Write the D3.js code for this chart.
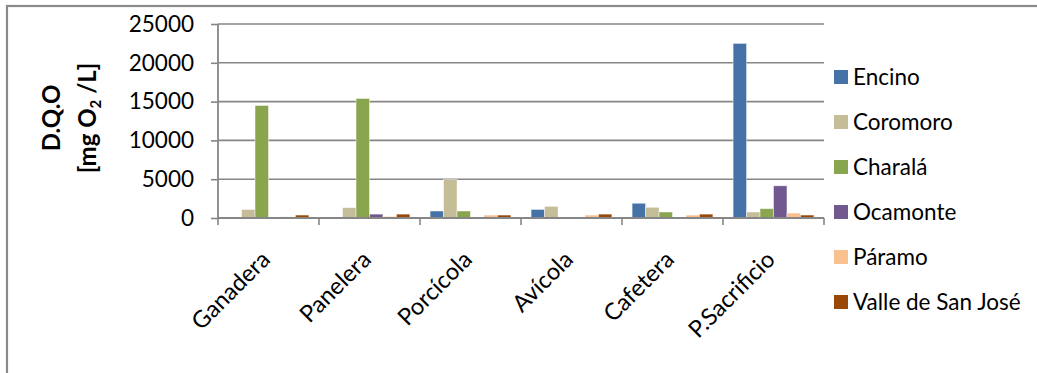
<!DOCTYPE html>
<html>
<head>
<meta charset="utf-8">
<script src="https://cdn.jsdelivr.net/npm/d3@7"></script>
<style>
  html, body { margin: 0; padding: 0; background: #ffffff; }
  svg { display: block; font-family: Lato, "Open Sans", sans-serif; }
</style>
</head>
<body>
<svg id="chart" width="1037" height="373"></svg>
<script>
// Sampling sites (x categories) and measured COD per series
const categories = ["Ganadera", "Panelera", "Porcícola", "Avícola", "Cafetera", "P.Sacrificio"];
const seriesNames = ["Encino", "Coromoro", "Charalá", "Ocamonte", "Páramo", "Valle de San José"];
const encino   = [0, 0, 900, 1100, 1900, 22500];
const coromoro = [1100, 1330, 4950, 1500, 1380, 770];
const charala  = [14500, 15400, 900, 0, 770, 1200];
const ocamonte = [0, 500, 0, 0, 0, 4150];
const paramo   = [150, 200, 380, 380, 380, 640];
const valle    = [380, 500, 380, 500, 500, 380];
const yTicks   = [0, 5000, 10000, 15000, 20000, 25000];
const seriesColors = ["#4573a7", "#c4bd97", "#89a54e", "#71588f", "#fac090", "#984807"];

const seriesValues = [encino, coromoro, charala, ocamonte, paramo, valle];

const svg = d3.select("#chart");
const axisColor = "#868686";

// Outer chart frame
svg.append("rect")
  .attr("x", 7).attr("y", 6)
  .attr("width", 1200).attr("height", 600)
  .attr("fill", "none")
  .attr("stroke", "#8a8a8a")
  .attr("stroke-width", 2.2);

const plot = { left: 218, right: 824, top: 24, bottom: 218 };

const x0 = d3.scaleBand().domain(categories).range([plot.left, plot.right]);
const x1 = d3.scaleBand().domain(seriesNames).range([0, x0.bandwidth()])
  .paddingInner(0).paddingOuter(0.75);
const y = d3.scaleLinear().domain([0, 25000]).range([plot.bottom, plot.top]);

// Horizontal gridlines
svg.append("g").selectAll("line")
  .data(yTicks.filter(t => t > 0))
  .join("line")
  .attr("x1", plot.left).attr("x2", plot.right)
  .attr("y1", d => y(d)).attr("y2", d => y(d))
  .attr("stroke", axisColor).attr("stroke-width", 1.6);

// Bars
const groups = svg.append("g").selectAll("g")
  .data(categories)
  .join("g")
  .attr("transform", d => `translate(${x0(d)},0)`);

groups.selectAll("rect")
  .data((c, i) => seriesNames.map((s, k) => ({ s, k, v: seriesValues[k][i] })))
  .join("rect")
  .filter(d => d.v > 0)
  .attr("x", d => x1(d.s))
  .attr("y", d => y(d.v))
  .attr("width", x1.bandwidth())
  .attr("height", d => y(0) - y(d.v))
  .attr("fill", d => seriesColors[d.k])
  .attr("stroke", "#ffffff")
  .attr("stroke-opacity", 0.55)
  .attr("stroke-width", 0.8);

// Y axis
const yAxis = d3.axisLeft(y).tickValues(yTicks).tickSize(7).tickPadding(17)
  .tickFormat(d3.format("d"));
const gy = svg.append("g")
  .attr("transform", `translate(${plot.left},0)`)
  .call(yAxis);
gy.select(".domain").attr("stroke", axisColor).attr("stroke-width", 1.8)
  .attr("d", `M0,${plot.bottom}V${plot.top}`);
gy.selectAll(".tick line").attr("stroke", axisColor).attr("stroke-width", 1.6);
gy.selectAll(".tick text")
  .attr("fill", "#000").attr("font-size", 22.5)
  .attr("font-family", "Lato, 'Open Sans', sans-serif");

// X axis: baseline with ticks at category boundaries
const gx = svg.append("g");
gx.append("line")
  .attr("x1", plot.left).attr("x2", plot.right)
  .attr("y1", y(0)).attr("y2", y(0))
  .attr("stroke", axisColor).attr("stroke-width", 1.8);
const boundaries = categories.map(c => x0(c)).concat([x0(categories[categories.length - 1]) + x0.bandwidth()]);
gx.selectAll("line.tick")
  .data(boundaries)
  .join("line")
  .attr("class", "tick")
  .attr("x1", d => d).attr("x2", d => d)
  .attr("y1", y(0)).attr("y2", y(0) + 7)
  .attr("stroke", axisColor).attr("stroke-width", 1.6);

gx.selectAll("text")
  .data(categories)
  .join("text")
  .attr("transform", d => `translate(${x0(d) + x0.bandwidth() / 2 + 3},261) rotate(-45)`)
  .attr("text-anchor", "end")
  .attr("font-size", 23.5)
  .attr("fill", "#000")
  .text(d => d);

// Y axis title (two lines, rotated)
const title = svg.append("text")
  .attr("transform", "translate(60,118) rotate(-90)")
  .attr("text-anchor", "middle")
  .attr("font-weight", "bold")
  .attr("font-size", 24)
  .attr("fill", "#000");
title.append("tspan").attr("x", 0).attr("dy", 0).text("D.Q.O");
const line2 = title.append("tspan").attr("x", 0).attr("dy", 36);
line2.append("tspan").text("[mg O");
line2.append("tspan").attr("font-size", 15).attr("dy", 5).text("2");
line2.append("tspan").attr("dy", -5).text(" /L]");

// Legend
const legend = svg.append("g").selectAll("g")
  .data(seriesNames)
  .join("g")
  .attr("transform", (d, i) => `translate(834,${77 + i * 45})`);
legend.append("rect")
  .attr("x", 0).attr("y", -7)
  .attr("width", 14).attr("height", 14)
  .attr("fill", (d, i) => seriesColors[i]);
legend.append("text")
  .attr("x", 19).attr("y", 0)
  .attr("dy", "0.35em")
  .attr("font-size", 22.5)
  .attr("fill", "#000")
  .text(d => d);
</script>
</body>
</html>
